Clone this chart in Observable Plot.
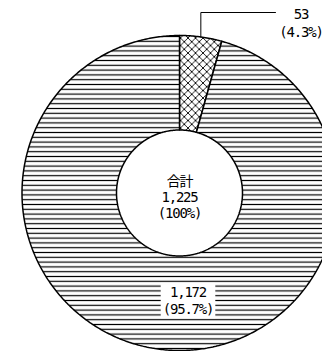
<!DOCTYPE html>
<html>
<head>
<meta charset="utf-8">
<script src="https://cdn.jsdelivr.net/npm/d3@7"></script>
<script src="https://cdn.jsdelivr.net/npm/@observablehq/plot@0.6"></script>
<style>
  html, body { margin: 0; padding: 0; background: #fff; }
  #chart svg { display: block; }
</style>
</head>
<body>
<div id="chart"></div>
<script>
// Two-part breakdown shown as a donut, with the total in the hole.
const sliceKeys = ["minor", "major"];
const values = [53, 1172];
const totalTitle = "合計";

// Layout (pixels)
const W = 322, H = 351;
const cx = 179, cy = 192.5;      // donut centre
const R = 157.5, r0 = 63;        // outer / inner radius
const FONT = "'DejaVu Sans Mono','Noto Sans CJK JP',monospace";
const FS = 14;

// Hatch pattern for each slice
const sliceFill = { minor: "url(#cross)", major: "url(#hlines)" };

const total = d3.sum(values);
const fmtN = d3.format(",");
const fmtP = v => (v / total * 100).toFixed(1) + "%";
const arcs = d3.pie().sort(null)(values);

// Polar -> plot coordinates (angle clockwise from 12 o'clock, y up)
const polar = (a, rho) => ({ x: rho * Math.sin(a), y: rho * Math.cos(a) });

// Closed outline of each ring segment
const rings = arcs.map(a => {
  const n = Math.max(12, Math.ceil((a.endAngle - a.startAngle) / 0.01));
  const angles = d3.range(n + 1).map(k => a.startAngle + (a.endAngle - a.startAngle) * k / n);
  const outer = angles.map(t => polar(t, R));
  const inner = angles.slice().reverse().map(t => polar(t, r0));
  return [...outer, ...inner, outer[0]];
});

// Leader line from the small slice to its label
const smallArc = arcs[0];
const mid = (smallArc.startAngle + smallArc.endAngle) / 2;
const leaderY = cy - 12;
const leaderStart = polar(mid, R);
const leader = [
  leaderStart,
  { x: leaderStart.x, y: leaderY },
  { x: 275 - cx, y: leaderY }
];

const smallLabel = [{ x: 300.5 - cx, y: cy - 22, text: `${fmtN(values[0])}\n(${fmtP(values[0])})` }];
const bigLabel = [{ x: 187.5 - cx, y: cy - 299.5, text: `${fmtN(values[1])}\n(${fmtP(values[1])})` }];
const centerLabel = [{ x: 0, y: -4, text: `${totalTitle}\n${fmtN(total)}\n(100%)` }];

const chart = Plot.plot({
  width: W,
  height: H,
  margin: 0,
  x: { domain: [-cx, W - cx], axis: null },
  y: { domain: [cy - H, cy], axis: null },
  style: { background: "#fff", letterSpacing: "-1.2px" },
  marks: [
    ...rings.map((pts, i) => Plot.line(pts, {
      x: "x", y: "y", curve: "linear",
      fill: sliceFill[sliceKeys[i]], stroke: "#000", strokeWidth: 1.5, strokeLinejoin: "miter"
    })),
    Plot.line(leader, { x: "x", y: "y", curve: "linear", stroke: "#000", strokeWidth: 1 }),
    Plot.text(smallLabel, { x: "x", y: "y", text: "text", fontFamily: FONT, fontSize: FS, lineHeight: 1.3, fill: "#000" }),
    Plot.text(bigLabel, { x: "x", y: "y", text: "text", fontFamily: FONT, fontSize: FS, lineHeight: 1.24, fill: "#000" }),
    Plot.text(centerLabel, { x: "x", y: "y", text: "text", fontFamily: FONT, fontSize: FS, lineHeight: 1.15, fill: "#000" })
  ]
});

document.getElementById("chart").appendChild(chart);

// Hatch patterns
const svg = d3.select(chart);
const defs = svg.insert("defs", ":first-child");
const h = defs.append("pattern")
  .attr("id", "hlines").attr("patternUnits", "userSpaceOnUse")
  .attr("width", 10).attr("height", 4.8);
h.append("rect").attr("width", 10).attr("height", 4.8).attr("fill", "#fff");
h.append("line").attr("x1", 0).attr("x2", 10).attr("y1", 2.4).attr("y2", 2.4)
  .attr("stroke", "#000").attr("stroke-width", 1.2);

const s = 7.5;
const c = defs.append("pattern")
  .attr("id", "cross").attr("patternUnits", "userSpaceOnUse")
  .attr("width", s).attr("height", s);
c.append("rect").attr("width", s).attr("height", s).attr("fill", "#fff");
c.append("path").attr("d", `M0,0L${s},${s}M${s},0L0,${s}`)
  .attr("stroke", "#000").attr("stroke-width", 0.9).attr("fill", "none");

// White box behind the large slice's label
const boxed = fmtN(values[1]);
svg.selectAll("text").each(function () {
  if (!this.textContent.startsWith(boxed)) return;
  const b = this.getBBox();
  d3.select(this.parentNode).insert("rect", () => this)
    .attr("transform", this.getAttribute("transform"))
    .attr("x", b.x - 2).attr("y", b.y - 1)
    .attr("width", b.width + 4).attr("height", b.height + 2)
    .attr("fill", "#fff");
});
</script>
</body>
</html>
